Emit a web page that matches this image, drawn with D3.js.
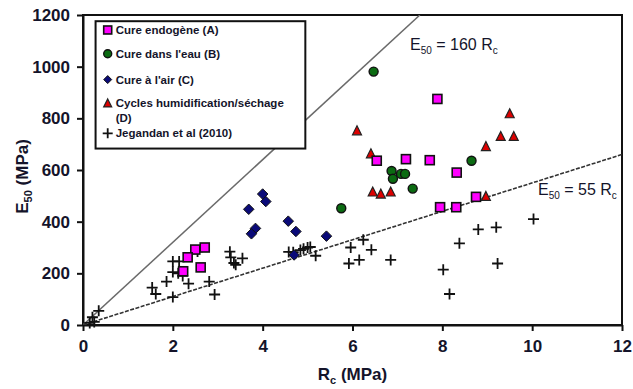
<!DOCTYPE html>
<html>
<head>
<meta charset="utf-8">
<script src="https://cdn.jsdelivr.net/npm/d3@7"></script>
<style>
  body { margin: 0; background: #fff; }
  text { font-family: Arial, "Liberation Sans", sans-serif; fill: #14142a; }
  .tick text { font-size: 17px; font-weight: bold; }
  .legend text { font-size: 11.5px; font-weight: bold; }
</style>
</head>
<body>
<div id="chart"></div>
<script>
// series data [Rc, E50]
const cureEndogene = [[7.89, 875], [6.54, 636], [7.19, 642], [7.72, 638], [8.32, 590], [7.95, 456],
  [8.31, 456], [8.75, 496], [2.71, 300], [2.50, 292], [2.33, 262], [2.62, 223], [2.23, 208]];
const cureEau = [[6.47, 981], [8.65, 636], [6.87, 596], [6.90, 566], [7.08, 585], [7.17, 585],
  [7.34, 528], [5.75, 452]];
const cureAir = [[4.00, 507], [4.07, 478], [3.69, 448], [3.84, 374], [3.75, 353], [4.57, 402],
  [4.74, 362], [5.42, 344], [4.70, 271]];
const cycles = [[6.10, 752], [6.41, 663], [6.45, 515], [6.63, 507], [6.85, 515], [9.50, 818],
  [9.30, 730], [9.59, 730], [8.97, 691], [8.97, 498]];
const jegandan = [[0.35, 55], [0.21, 30], [0.25, 12], [0.15, 8], [1.54, 145], [1.62, 120],
  [1.86, 168], [2.00, 246], [2.14, 246], [2.00, 205], [2.12, 200], [2.22, 190], [2.35, 160],
  [2.00, 108], [2.55, 285], [2.81, 168], [2.93, 118], [3.27, 284], [3.29, 262], [3.40, 233],
  [3.36, 240], [3.55, 258], [4.58, 283], [4.68, 282], [4.84, 290], [4.91, 295], [5.00, 300],
  [5.06, 302], [5.18, 268], [5.96, 300], [6.24, 330], [6.42, 291], [5.92, 238], [6.15, 252],
  [6.85, 252], [8.02, 214], [8.16, 120], [8.38, 316], [8.80, 370], [9.20, 378], [9.23, 238],
  [10.03, 410]];

const xTicks = [0, 2, 4, 6, 8, 10, 12];
const yTicks = [0, 200, 400, 600, 800, 1000, 1200];
const legendLabels = ['Cure endogène (A)', 'Cure dans l\'eau (B)', 'Cure à l\'air (C)',
  'Cycles humidification/séchage', 'Jegandan et al (2010)'];
const lineSlopes = [160, 55];

const W = 633, H = 389;
const MARGIN = { left: 83, right: 11, top: 15, bottom: 64 };

const svg = d3.select('#chart').append('svg').attr('width', W).attr('height', H);

const x = d3.scaleLinear().domain([0, 12]).range([MARGIN.left, W - MARGIN.right]);
const y = d3.scaleLinear().domain([0, 1200]).range([H - MARGIN.bottom, MARGIN.top]);

// axes
svg.append('g')
  .attr('transform', `translate(0,${y(0)})`)
  .call(d3.axisBottom(x).tickValues(xTicks).tickFormat(d3.format('d'))
    .tickSizeInner(6).tickSizeOuter(0).tickPadding(9))
  .call(g => g.selectAll('line,path').attr('stroke', '#111').attr('stroke-width', 2));

svg.append('g')
  .attr('transform', `translate(${x(0)},0)`)
  .call(d3.axisLeft(y).tickValues(yTicks).tickFormat(d3.format('d'))
    .tickSizeInner(6).tickSizeOuter(0).tickPadding(7))
  .call(g => g.selectAll('line,path').attr('stroke', '#111').attr('stroke-width', 2));

// frame
svg.append('rect')
  .attr('x', x(0)).attr('y', y(1200))
  .attr('width', x(12) - x(0)).attr('height', y(0) - y(1200))
  .attr('fill', 'none').attr('stroke', '#111').attr('stroke-width', 2);

// axis titles
const xt = svg.append('text').attr('x', x(6)).attr('y', 380)
  .attr('text-anchor', 'middle').style('font-size', '17px').style('font-weight', 'bold');
xt.append('tspan').text('R');
xt.append('tspan').attr('dy', 4).style('font-size', '11px').text('c');
xt.append('tspan').attr('dy', -4).text(' (MPa)');

const yt = svg.append('text').attr('transform', `translate(28,${y(575)}) rotate(-90)`)
  .attr('text-anchor', 'middle').style('font-size', '17px').style('font-weight', 'bold');
yt.append('tspan').text('E');
yt.append('tspan').attr('dy', 4).style('font-size', '11px').text('50');
yt.append('tspan').attr('dy', -4).text(' (MPa)');

// reference lines
svg.append('clipPath').attr('id', 'plot-clip').append('rect')
  .attr('x', x(0)).attr('y', y(1200)).attr('width', x(12) - x(0)).attr('height', y(0) - y(1200));

const lines = svg.append('g').attr('clip-path', 'url(#plot-clip)');
lines.append('line')
  .attr('x1', x(0)).attr('y1', y(0))
  .attr('x2', x(1200 / lineSlopes[0])).attr('y2', y(1200))
  .attr('stroke', '#6a6a6a').attr('stroke-width', 1.5);
lines.append('line')
  .attr('x1', x(0)).attr('y1', y(0))
  .attr('x2', x(12)).attr('y2', y(12 * lineSlopes[1]))
  .attr('stroke', '#333').attr('stroke-width', 1.6).attr('stroke-dasharray', '4,1.5');

// line labels
function lineLabel(px, py, k) {
  const t = svg.append('text').attr('x', x(px)).attr('y', y(py)).style('font-size', '16px');
  t.append('tspan').text('E');
  t.append('tspan').attr('dy', 4).style('font-size', '10px').text('50');
  t.append('tspan').attr('dy', -4).text(` = ${k} R`);
  t.append('tspan').attr('dy', 4).style('font-size', '10px').text('c');
}
lineLabel(7.28, 1063, lineSlopes[0]);
lineLabel(10.13, 503, lineSlopes[1]);

// marker drawers
const sym = {
  square: (g, s) => g.append('rect').attr('x', -s / 2).attr('y', -s / 2).attr('width', s).attr('height', s)
    .attr('fill', '#ff00ff').attr('stroke', '#111').attr('stroke-width', 1.6),
  circle: (g, s) => g.append('circle').attr('r', s / 2)
    .attr('fill', '#0b6b12').attr('stroke', '#111').attr('stroke-width', 1.4),
  diamond: (g, s) => g.append('path').attr('d', `M0,${-s / 2}L${s / 2},0L0,${s / 2}L${-s / 2},0Z`)
    .attr('fill', '#0a0a78').attr('stroke', '#111').attr('stroke-width', 1),
  triangle: (g, s) => g.append('path').attr('d', `M0,${-s * 0.55}L${s / 2},${s * 0.45}L${-s / 2},${s * 0.45}Z`)
    .attr('fill', '#dd0000').attr('stroke', '#222').attr('stroke-width', 1.2),
  cross: (g, s) => g.append('path').attr('d', `M${-s / 2},0H${s / 2}M0,${-s / 2}V${s / 2}`)
    .attr('stroke', '#111').attr('stroke-width', 1.8).attr('fill', 'none')
};

const series = [
  { data: cureEndogene, kind: 'square', size: 9 },
  { data: cureEau, kind: 'circle', size: 9 },
  { data: cureAir, kind: 'diamond', size: 10.5 },
  { data: cycles, kind: 'triangle', size: 9 },
  { data: jegandan, kind: 'cross', size: 11 }
];

// jegandan drawn first, then the others on top
const drawOrder = [4, 2, 1, 3, 0];
drawOrder.forEach(i => {
  const s = series[i];
  const g = svg.append('g');
  g.selectAll('g').data(s.data).join('g')
    .attr('transform', d => `translate(${x(d[0])},${y(d[1])})`)
    .each(function () { sym[s.kind](d3.select(this), s.size); });
});

// legend
const legend = svg.append('g').attr('class', 'legend');
legend.append('rect')
  .attr('x', x(0.28)).attr('y', y(1176))
  .attr('width', x(4.95) - x(0.28)).attr('height', y(683) - y(1176))
  .attr('fill', '#fff').attr('stroke', '#111').attr('stroke-width', 2);

const legendY = [1142, 1050, 950, 858, 742];
const legendSizes = [8, 8, 8, 8, 10];
series.forEach((s, i) => {
  const row = legend.append('g').attr('transform', `translate(${x(0.55)},${y(legendY[i])})`);
  sym[s.kind](row, legendSizes[i]);
  row.append('text').attr('x', 8).attr('y', 4).text(legendLabels[i]);
  if (i === 3) row.append('text').attr('x', 8).attr('y', 19).text('(D)');
});
</script>
</body>
</html>
